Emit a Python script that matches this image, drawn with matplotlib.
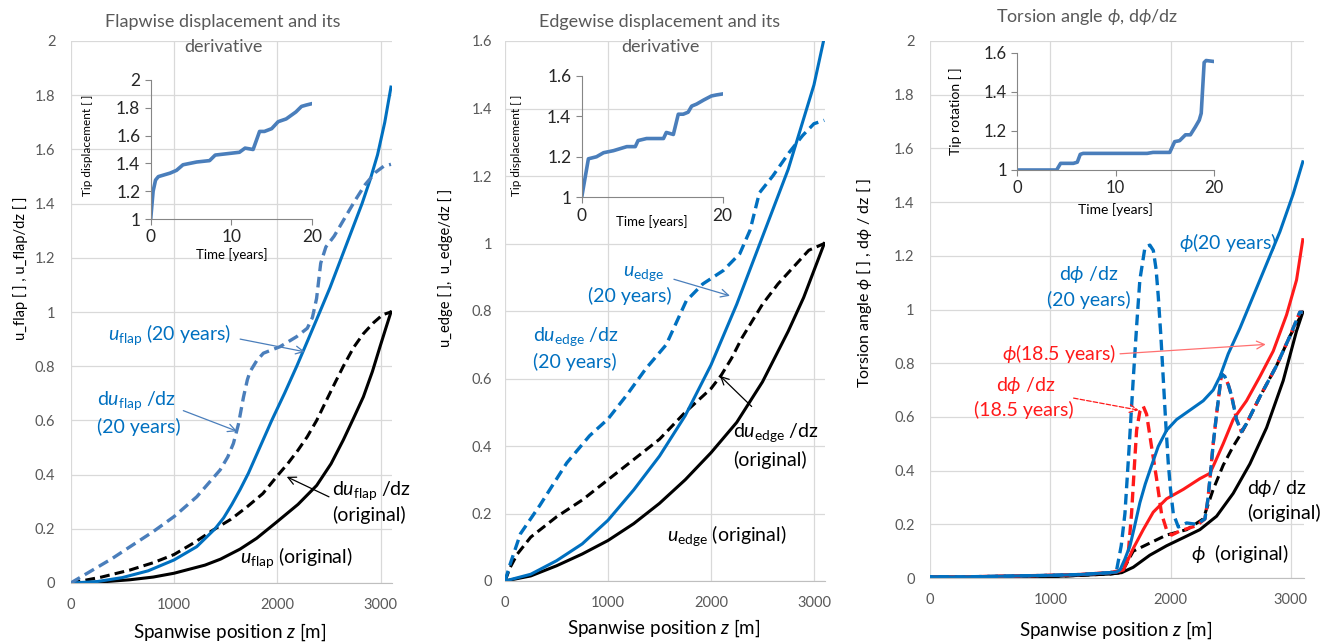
import numpy as np
import matplotlib
matplotlib.use('Agg')
import matplotlib.pyplot as plt

plt.rcParams['font.family'] = ['Lato', 'DejaVu Sans']
plt.rcParams['mathtext.fontset'] = 'custom'
plt.rcParams['mathtext.rm'] = 'Lato'
plt.rcParams['mathtext.it'] = 'Lato:italic'
plt.rcParams['mathtext.bf'] = 'Lato:bold'
plt.rcParams['mathtext.fallback'] = 'stixsans'

# ---------------- Panel 1: flapwise ----------------
z_uflap_orig = [0, 300, 575, 800, 1000, 1300, 1450, 1639, 1800, 1994, 2200, 2381, 2520, 2639, 2740,
                2833, 2920, 2994, 3050, 3100]
uflap_orig = [0, 0.004, 0.012, 0.022, 0.036, 0.066, 0.088, 0.125, 0.165, 0.225, 0.29, 0.36, 0.44,
              0.528, 0.61, 0.687, 0.78, 0.872, 0.94, 1.0]

z_duflap_orig = [0, 300, 575, 800, 1000, 1200, 1381, 1550, 1704, 1860, 2010, 2100, 2200, 2290, 2381,
                 2470, 2560, 2639, 2740, 2833, 2930, 3020, 3100]
duflap_orig = [0, 0.022, 0.048, 0.075, 0.105, 0.15, 0.196, 0.235, 0.28, 0.33, 0.40, 0.44, 0.49, 0.54,
               0.60, 0.67, 0.74, 0.80, 0.87, 0.92, 0.96, 0.99, 1.0]

z_uflap_20 = [0, 250, 500, 750, 1000, 1220, 1397, 1480, 1560, 1640, 1720, 1830, 1946, 2070, 2188,
              2300, 2400, 2510, 2620, 2720, 2820, 2900, 2970, 3040, 3100]
uflap_20 = [0, 0.005, 0.02, 0.045, 0.085, 0.134, 0.20, 0.24, 0.29, 0.345, 0.405, 0.50, 0.60, 0.70,
            0.80, 0.90, 0.99, 1.09, 1.20, 1.30, 1.40, 1.49, 1.58, 1.70, 1.83]

z_duflap_20 = [0, 200, 400, 575, 800, 1000, 1220, 1446, 1520, 1575, 1623, 1672, 1710, 1736, 1800,
               1865, 2026, 2187, 2290, 2340, 2380, 2420, 2470, 2550, 2650, 2750, 2850, 2950, 3030,
               3100]
duflap_20 = [0, 0.045, 0.09, 0.134, 0.19, 0.245, 0.318, 0.417, 0.465, 0.515, 0.585, 0.685, 0.75, 0.78,
             0.82, 0.848, 0.872, 0.909, 0.94, 0.98, 1.05, 1.18, 1.24, 1.28, 1.345, 1.41, 1.47, 1.515,
             1.538, 1.545]

t_flap = [0, 0.3, 0.6, 0.95, 2.4, 3.2, 4.0, 5.7, 7.3, 8.0, 11.0, 11.7, 12.7, 13.5, 14.1, 15.0, 15.8,
          16.8, 18.0, 18.7, 19.3, 20.0]
tip_flap = [1.0, 1.2, 1.28, 1.305, 1.33, 1.35, 1.39, 1.41, 1.42, 1.46, 1.48, 1.51, 1.50, 1.63, 1.63,
            1.65, 1.70, 1.72, 1.77, 1.81, 1.82, 1.83]

# ---------------- Panel 2: edgewise ----------------
z_uedge_orig = [0, 250, 500, 750, 1000, 1250, 1500, 1750, 2000, 2250, 2500, 2750, 2900, 3000, 3100]
uedge_orig = [0, 0.015, 0.045, 0.08, 0.12, 0.17, 0.23, 0.30, 0.38, 0.47, 0.59, 0.74, 0.84, 0.92, 1.0]

z_duedge_orig = [0, 50, 120, 250, 500, 750, 1000, 1250, 1500, 1750, 2000, 2100, 2200, 2300, 2400,
                 2500, 2650, 2800, 2950, 3100]
duedge_orig = [0, 0.04, 0.08, 0.13, 0.19, 0.24, 0.30, 0.36, 0.42, 0.50, 0.57, 0.61, 0.66, 0.72, 0.77,
               0.82, 0.88, 0.93, 0.98, 1.0]

z_uedge_20 = [0, 250, 500, 750, 1000, 1250, 1500, 1750, 2000, 2250, 2500, 2750, 2880, 3000, 3100]
uedge_20 = [0, 0.02, 0.06, 0.11, 0.18, 0.27, 0.37, 0.49, 0.64, 0.82, 1.02, 1.22, 1.35, 1.47, 1.61]

z_duedge_20 = [0, 50, 150, 340, 600, 820, 1000, 1180, 1370, 1565, 1640, 1760, 1920, 2120, 2280,
               2380, 2470, 2600, 2760, 2890, 3000, 3100]
duedge_20 = [0, 0.05, 0.14, 0.225, 0.35, 0.43, 0.48, 0.55, 0.63, 0.70, 0.75, 0.83, 0.88, 0.92, 0.97,
             1.04, 1.15, 1.20, 1.27, 1.32, 1.355, 1.365]

t_edge = [0, 0.95, 2.1, 3.1, 4.5, 6.4, 7.6, 8.0, 9.2, 11.6, 12.0, 13.0, 13.7, 14.4, 15.1, 15.6, 16.3,
          17.3, 18.4, 19.1, 20.0]
tip_edge = [1.0, 1.19, 1.20, 1.22, 1.23, 1.25, 1.25, 1.28, 1.29, 1.29, 1.32, 1.31, 1.41, 1.41, 1.42,
            1.45, 1.46, 1.48, 1.50, 1.505, 1.51]

# ---------------- Panel 3: torsion ----------------
z_phi_orig = [0, 1000, 1500, 1594, 1690, 1828, 1967, 2106, 2244, 2383, 2521, 2660, 2799, 2937, 3048, 3100]
phi_orig = [0, 0.005, 0.015, 0.02, 0.04, 0.085, 0.12, 0.15, 0.18, 0.23, 0.315, 0.425, 0.56, 0.735, 0.92, 0.99]

z_dphi_orig = [0, 1000, 1500, 1594, 1690, 1828, 1967, 2134, 2272, 2355, 2438, 2521, 2590, 2632, 2743,
               2881, 2992, 3100]
dphi_orig = [0, 0.005, 0.015, 0.02, 0.10, 0.13, 0.16, 0.18, 0.22, 0.33, 0.42, 0.49, 0.54, 0.575, 0.675,
             0.79, 0.90, 0.99]

z_phi_185 = [0, 250, 500, 750, 1000, 1250, 1500, 1550, 1608, 1690, 1773, 1856, 1967, 2106, 2244, 2328,
             2369, 2438, 2521, 2632, 2743, 2854, 2965, 3048, 3100]
phi_185 = [0.005, 0.004, 0.006, 0.008, 0.01, 0.013, 0.02, 0.022, 0.03, 0.11, 0.18, 0.245, 0.295, 0.33,
           0.37, 0.39, 0.43, 0.50, 0.59, 0.66, 0.75, 0.845, 0.98, 1.11, 1.26]

z_dphi_185 = [0, 250, 500, 750, 1000, 1250, 1500, 1600, 1650, 1676, 1700, 1718, 1745, 1773, 1801, 1842,
              1884, 1925, 1967, 2009, 2078, 2217, 2286, 2310, 2328, 2355, 2383, 2424, 2452, 2480, 2507,
              2549, 2590, 2632, 2743, 2881, 2992, 3075, 3100]
dphi_185 = [0.005, 0.004, 0.006, 0.008, 0.01, 0.013, 0.02, 0.03, 0.10, 0.24, 0.42, 0.55, 0.62, 0.64, 0.61,
            0.49, 0.37, 0.24, 0.18, 0.16, 0.175, 0.195, 0.22, 0.29, 0.37, 0.50, 0.61, 0.76, 0.75, 0.72,
            0.68, 0.59, 0.545, 0.575, 0.675, 0.79, 0.90, 0.99, 0.99]

z_phi_20 = [0, 250, 500, 750, 1000, 1250, 1500, 1550, 1580, 1620, 1663, 1700, 1745, 1790, 1828, 1898,
            1967, 2050, 2161, 2272, 2355, 2411, 2480, 2577, 2688, 2799, 2910, 3020, 3100]
phi_20 = [0.005, 0.004, 0.006, 0.008, 0.01, 0.013, 0.02, 0.022, 0.03, 0.07, 0.12, 0.19, 0.28, 0.35,
          0.40, 0.49, 0.55, 0.59, 0.625, 0.66, 0.70, 0.75, 0.835, 0.93, 1.05, 1.17, 1.29, 1.43, 1.55]

z_dphi_20 = [0, 250, 500, 750, 1000, 1250, 1500, 1552, 1590, 1621, 1655, 1690, 1720, 1745, 1787, 1828,
             1857, 1880, 1898, 1920, 1940, 1960, 1981, 2000, 2023, 2065, 2134, 2217, 2286, 2310, 2328,
             2355, 2383, 2424, 2452, 2480, 2507, 2549, 2590, 2632, 2743, 2881, 2992, 3075, 3100]
dphi_20 = [0.005, 0.004, 0.006, 0.008, 0.01, 0.013, 0.02, 0.03, 0.12, 0.24, 0.48, 0.74, 0.95, 1.11,
           1.23, 1.24, 1.22, 1.15, 1.05, 0.90, 0.74, 0.58, 0.43, 0.33, 0.24, 0.19, 0.205, 0.20, 0.22,
           0.29, 0.37, 0.50, 0.61, 0.76, 0.75, 0.72, 0.68, 0.59, 0.545, 0.575, 0.675, 0.79, 0.90,
           0.99, 0.99]

t_rot = [0, 4.0, 4.4, 5.7, 6.1, 6.4, 6.7, 13.2, 13.8, 15.5, 16.0, 16.5, 17.1, 17.6, 18.1, 18.5, 18.7,
         19.0, 19.2, 20.0]
tip_rot = [1.0, 1.0, 1.034, 1.034, 1.04, 1.08, 1.085, 1.085, 1.09, 1.09, 1.145, 1.15, 1.18, 1.18, 1.22,
           1.255, 1.29, 1.55, 1.56, 1.555]

# ---------------- styles ----------------
W, H = 1326, 643
BLUE = '#0070C0'
BLUE2 = '#4A7EBB'
RED = '#FF1A1A'
GRAY = '#595959'
DASH = (0, (3.2, 1.7))
FS_ANN = 14
FS_TITLE = 13
FS_XLAB = 13.5

fig = plt.figure(figsize=(W / 100, H / 100), dpi=100)


def frac(l, t, r, b):
    return [l / W, 1 - b / H, (r - l) / W, (b - t) / H]


def style_main(ax, ymax, ypad):
    ax.set_xlim(0, 3110)
    ax.set_ylim(0, ymax)
    ax.set_xticks([0, 1000, 2000, 3000])
    ax.set_yticks(np.round(np.arange(0, ymax + 1e-9, 0.2), 1))
    ax.yaxis.set_major_formatter(lambda v, p: f"{v:g}")
    ax.grid(True, color='#D9D9D9', lw=0.9)
    ax.set_axisbelow(True)
    for s in ['top', 'right', 'left']:
        ax.spines[s].set_visible(False)
    ax.spines['bottom'].set_color('#BFBFBF')
    ax.tick_params(axis='both', length=0, labelsize=10.5, colors=GRAY)
    ax.tick_params(axis='x', pad=11)
    ax.tick_params(axis='y', pad=ypad)
    ax.patch.set_alpha(0)


def style_inset(ax, ylim, yticks, xticks, fs):
    ax.set_xlim(0, 20)
    ax.set_ylim(*ylim)
    ax.set_yticks(yticks)
    ax.set_xticks(xticks)
    ax.yaxis.set_major_formatter(lambda v, p: f"{v:g}")
    ax.patch.set_alpha(0)
    for s in ['top', 'right']:
        ax.spines[s].set_visible(False)
    for s in ['left', 'bottom']:
        ax.spines[s].set_color('#868686')
    ax.tick_params(axis='both', direction='out', length=4, color='#868686', labelsize=fs,
                   labelcolor='#262626')


def arrow(ax, start, tip, color, ls='-'):
    ax.annotate('', xy=tip, xytext=start,
                arrowprops=dict(arrowstyle='->', color=color, lw=0.9, ls=ls, mutation_scale=14,
                                shrinkA=0, shrinkB=0))


# ============ Panel 1 ============
ax1 = fig.add_axes(frac(70.7, 41, 392, 583))
style_main(ax1, 2.0, 11)
ax1.plot(z_uflap_orig, uflap_orig, color='black', lw=2.2)
ax1.plot(z_duflap_orig, duflap_orig, color='black', lw=2.2, ls=DASH)
ax1.plot(z_uflap_20, uflap_20, color=BLUE, lw=2.2)
ax1.plot(z_duflap_20, duflap_20, color=BLUE2, lw=2.4, ls=DASH)

ax1.text(365, 0.917, r'$u_{\mathrm{flap}}$ (20 years)', color=BLUE, fontsize=FS_ANN, va='center')
arrow(ax1, (1640, 0.90), (2267, 0.853), BLUE2)
ax1.text(252, 0.674, r'd$u_{\mathrm{flap}}$ /dz', color=BLUE, fontsize=FS_ANN, va='center')
ax1.text(252, 0.576, '(20 years)', color=BLUE, fontsize=FS_ANN, va='center')
arrow(ax1, (1090, 0.636), (1610, 0.56), BLUE2)
ax1.text(2531, 0.34, r'd$u_{\mathrm{flap}}$ /dz', color='black', fontsize=FS_ANN, va='center')
ax1.text(2531, 0.25, '(original)', color='black', fontsize=FS_ANN, va='center')
arrow(ax1, (2500, 0.318), (2091, 0.392), 'black')
ax1.text(1642, 0.095, r'$u_{\mathrm{flap}}$ (original)', color='black', fontsize=FS_ANN, va='center')

fig.text(223 / W, 1 - 22 / H, 'Flapwise displacement and its', ha='center', va='center',
         fontsize=FS_TITLE, color=GRAY)
fig.text(223 / W, 1 - 47 / H, 'derivative', ha='center', va='center', fontsize=FS_TITLE, color=GRAY)
fig.text(230 / W, 1 - 632 / H, r'Spanwise position $z$ [m]', ha='center', va='center', fontsize=FS_XLAB)
fig.text(21 / W, 1 - 268 / H, 'u_flap [ ] , u_flap/dz [ ]', ha='center', va='center', fontsize=10.5,
         rotation=90)

in1 = fig.add_axes(frac(150.7, 80, 312, 219))
style_inset(in1, (1, 2), [1, 1.2, 1.4, 1.6, 1.8, 2], [0, 10, 20], 12.5)
in1.plot(t_flap, tip_flap, color=BLUE2, lw=2.6)
in1.set_ylabel('Tip displacement [ ]', fontsize=8.5)
in1.yaxis.set_label_coords(-0.36, 0.53)
in1.set_xlabel('Time [years]', fontsize=9.5, labelpad=2)

# ============ Panel 2 ============
ax2 = fig.add_axes(frac(505, 41, 825.3, 581))
style_main(ax2, 1.6, 9.5)
ax2.plot(z_uedge_orig, uedge_orig, color='black', lw=2.2)
ax2.plot(z_duedge_orig, duedge_orig, color='black', lw=2.2, ls=DASH)
ax2.plot(z_uedge_20, uedge_20, color=BLUE, lw=2.2)
ax2.plot(z_duedge_20, duedge_20, color=BLUE, lw=2.4, ls=DASH)

ax2.text(1343, 0.91, r'$u_{\mathrm{edge}}$', color=BLUE, fontsize=FS_ANN, va='center', ha='center')
ax2.text(1214, 0.845, '(20 years)', color=BLUE, fontsize=FS_ANN, va='center', ha='center')
arrow(ax2, (1640, 0.894), (2184, 0.845), BLUE2)
ax2.text(269, 0.724, r'd$u_{\mathrm{edge}}$ /dz', color=BLUE, fontsize=FS_ANN, va='center')
ax2.text(269, 0.65, '(20 years)', color=BLUE, fontsize=FS_ANN, va='center')
ax2.text(2217, 0.44, r'd$u_{\mathrm{edge}}$ /dz', color='black', fontsize=FS_ANN, va='center')
ax2.text(2217, 0.36, '(original)', color='black', fontsize=FS_ANN, va='center')
arrow(ax2, (2395, 0.517), (2087, 0.608), 'black')
ax2.text(1570, 0.134, r'$u_{\mathrm{edge}}$ (original)', color='black', fontsize=FS_ANN, va='center')

fig.text(660 / W, 1 - 22 / H, 'Edgewise displacement and its', ha='center', va='center',
         fontsize=FS_TITLE, color=GRAY)
fig.text(660 / W, 1 - 47 / H, 'derivative', ha='center', va='center', fontsize=FS_TITLE, color=GRAY)
fig.text(664 / W, 1 - 628 / H, r'Spanwise position $z$ [m]', ha='center', va='center', fontsize=FS_XLAB)
fig.text(446 / W, 1 - 268 / H, 'u_edge [ ],  u_edge/dz [ ]', ha='center', va='center', fontsize=10.5,
         rotation=90)

in2 = fig.add_axes(frac(581.7, 75.7, 722.7, 197.3))
style_inset(in2, (1, 1.6), [1, 1.2, 1.4, 1.6], [0, 20], 12.5)
in2.plot(t_edge, tip_edge, color=BLUE2, lw=2.6)
in2.set_ylabel('Tip displacement [ ]', fontsize=8.5)
in2.yaxis.set_label_coords(-0.42, 0.43)
in2.text(10, -0.2, 'Time [years]', fontsize=9.5, ha='center', va='center',
         transform=in2.get_xaxis_transform())

# ============ Panel 3 ============
ax3 = fig.add_axes(frac(930, 41, 1304, 578))
style_main(ax3, 2.0, 11)
ax3.plot(z_phi_orig, phi_orig, color='black', lw=2.2)
ax3.plot(z_dphi_orig, dphi_orig, color='black', lw=2.2, ls=DASH)
ax3.plot(z_phi_185, phi_185, color=RED, lw=2.2)
ax3.plot(z_dphi_185, dphi_185, color=RED, lw=2.4, ls=DASH)
ax3.plot(z_phi_20, phi_20, color=BLUE, lw=2.2)
ax3.plot(z_dphi_20, dphi_20, color=BLUE, lw=2.4, ls=(2.4, (3.2, 1.7)))

ax3.text(2069, 1.25, r'$\phi$(20 years)', color=BLUE, fontsize=FS_ANN, va='center')
ax3.text(1319, 1.13, r'd$\phi$ /dz', color=BLUE, fontsize=FS_ANN, va='center', ha='center')
ax3.text(1319, 1.037, '(20 years)', color=BLUE, fontsize=FS_ANN, va='center', ha='center')
ax3.text(597, 0.835, r'$\phi$(18.5 years)', color=RED, fontsize=FS_ANN, va='center')
arrow(ax3, (1580, 0.835), (2792, 0.87), '#FF7070')
ax3.text(792, 0.716, r'd$\phi$ /dz', color=RED, fontsize=FS_ANN, va='center', ha='center')
ax3.text(783, 0.625, '(18.5 years)', color=RED, fontsize=FS_ANN, va='center', ha='center')
arrow(ax3, (1194, 0.67), (1736, 0.625), RED, ls='--')
ax3.text(2639, 0.335, r'd$\phi$/ dz', color='black', fontsize=FS_ANN, va='center')
ax3.text(2639, 0.244, '(original)', color='black', fontsize=FS_ANN, va='center')
ax3.text(2167, 0.09, r'$\phi$  (original)', color='black', fontsize=FS_ANN, va='center')

fig.text(1087 / W, 1 - 17 / H, r'Torsion angle $\phi$, d$\phi$/dz', ha='center', va='center',
         fontsize=FS_TITLE, color=GRAY)
fig.text(1116 / W, 1 - 630 / H, r'Spanwise position $z$ [m]', ha='center', va='center', fontsize=FS_XLAB)
fig.text(864 / W, 1 - 283 / H, r'Torsion angle $\phi$ [ ] , d$\phi$ / dz [ ]', ha='center',
         va='center', fontsize=11.5, rotation=90)

in3 = fig.add_axes(frac(1017.3, 52.7, 1214, 170))
style_inset(in3, (1, 1.6), [1, 1.2, 1.4, 1.6], [0, 10, 20], 12)
in3.plot(t_rot, tip_rot, color=BLUE2, lw=2.6)
in3.set_ylabel('Tip rotation [ ]', fontsize=10)
in3.yaxis.set_label_coords(-0.28, 0.5)
in3.set_xlabel('Time [years]', fontsize=10, labelpad=5)

fig.savefig('out.png', dpi=100)
